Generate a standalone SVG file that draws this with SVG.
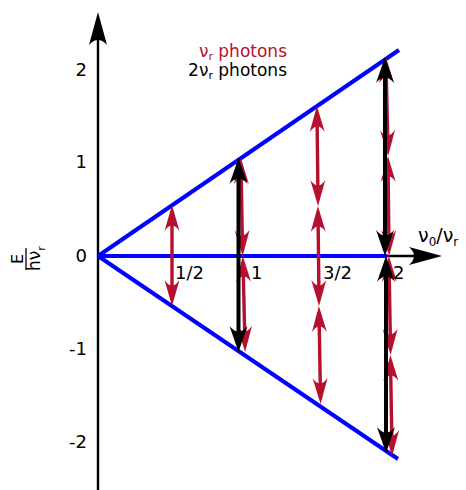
<svg xmlns="http://www.w3.org/2000/svg" width="466" height="490" viewBox="0 0 466 490">
<style>
text{font-family:"DejaVu Sans","Liberation Sans",sans-serif;fill:#000}
.tick{font-size:18px}
.leg{font-size:17px}
.red{fill:#b5112f}
.blue{stroke:#0000ff;stroke-width:4;fill:none;stroke-linecap:butt}
.ax{stroke:#000;stroke-width:2.4;fill:none;marker-end:url(#ma)}
.ra{stroke:#b5112f;stroke-width:3.4;fill:none;marker-start:url(#mr);marker-end:url(#mr)}
.ba{stroke:#000;stroke-width:4;fill:none;marker-start:url(#mb);marker-end:url(#mb)}
</style>
<defs>
<marker id="ma" markerUnits="userSpaceOnUse" viewBox="-40 -12 50 24" markerWidth="50" markerHeight="24" refX="-6" refY="0" orient="auto-start-reverse" overflow="visible">
<path d="M0,0 L-33,9 Q-23,0 -33,-9 Z" fill="#000"/>
</marker>
<marker id="mr" markerUnits="userSpaceOnUse" viewBox="-30 -10 40 20" markerWidth="40" markerHeight="20" refX="-6" refY="0" orient="auto-start-reverse" overflow="visible">
<path d="M0,0 L-26,7.5 Q-15,0 -26,-7.5 Z" fill="#b5112f"/>
</marker>
<marker id="mb" markerUnits="userSpaceOnUse" viewBox="-30 -10 40 20" markerWidth="40" markerHeight="20" refX="-7" refY="0" orient="auto-start-reverse" overflow="visible">
<path d="M0,0 L-26,9 Q-15,0 -26,-9 Z" fill="#000"/>
</marker>
</defs>

<g id="axes">
<line class="ax" x1="98" y1="490" x2="98" y2="18"/>
<line class="ax" x1="98" y1="256" x2="436" y2="256"/>
</g>

<g id="bands">
<line class="blue" x1="98" y1="256" x2="399" y2="50"/>
<line class="blue" x1="98" y1="256" x2="398" y2="459"/>
<line class="blue" x1="98" y1="256" x2="387" y2="256"/>
</g>

<g id="connectors">
<line class="ra" x1="172" y1="211" x2="172" y2="300"/>
<line class="ra" x1="241" y1="164" x2="242.5" y2="250"/>
<line class="ra" x1="243" y1="262" x2="245" y2="346"/>
<line class="ra" x1="317" y1="112" x2="318" y2="200"/>
<line class="ra" x1="318" y1="212" x2="319" y2="300"/>
<line class="ra" x1="319" y1="312" x2="320.5" y2="398"/>
<line class="ra" x1="386" y1="63" x2="388" y2="150"/>
<line class="ra" x1="388" y1="162" x2="389" y2="250"/>
<line class="ra" x1="389" y1="262" x2="390.5" y2="349"/>
<line class="ra" x1="390.5" y1="361" x2="392" y2="450"/>
<line class="ba" x1="238.5" y1="165" x2="238.5" y2="345"/>
<line class="ba" x1="385" y1="64" x2="385" y2="249"/>
<line class="ba" x1="386" y1="263" x2="386" y2="446"/>
</g>

<g id="yticks" class="tick" text-anchor="end">
<text x="87" y="76">2</text>
<text x="87" y="168">1</text>
<text x="87" y="262">0</text>
<text x="87" y="355">-1</text>
<text x="87" y="448">-2</text>
</g>

<g id="xticks" class="tick">
<text x="175" y="279">1/2</text>
<text x="251" y="279">1</text>
<text x="323" y="279">3/2</text>
<text x="393" y="279">2</text>
</g>

<g id="legend" class="leg" text-anchor="end">
<text x="287" y="57" class="red">ν<tspan font-size="11" dy="3">r</tspan><tspan dy="-3"> photons</tspan></text>
<text x="287" y="76">2ν<tspan font-size="11" dy="3">r</tspan><tspan dy="-3"> photons</tspan></text>
</g>

<g id="xlabel">
<text x="418" y="242" font-size="19">ν<tspan font-size="12" dy="4">0</tspan><tspan dy="-4">/ν</tspan><tspan font-size="12" dy="4">r</tspan></text>
</g>

<g id="ylabel" transform="translate(26,259) rotate(-90)">
<text x="0" y="-3" font-size="16" text-anchor="middle">E</text>
<line x1="-11" y1="0" x2="11" y2="0" stroke="#000" stroke-width="1.3"/>
<text x="-12" y="14" font-size="17">hν<tspan font-size="11" dy="5">r</tspan></text>
</g>
</svg>
